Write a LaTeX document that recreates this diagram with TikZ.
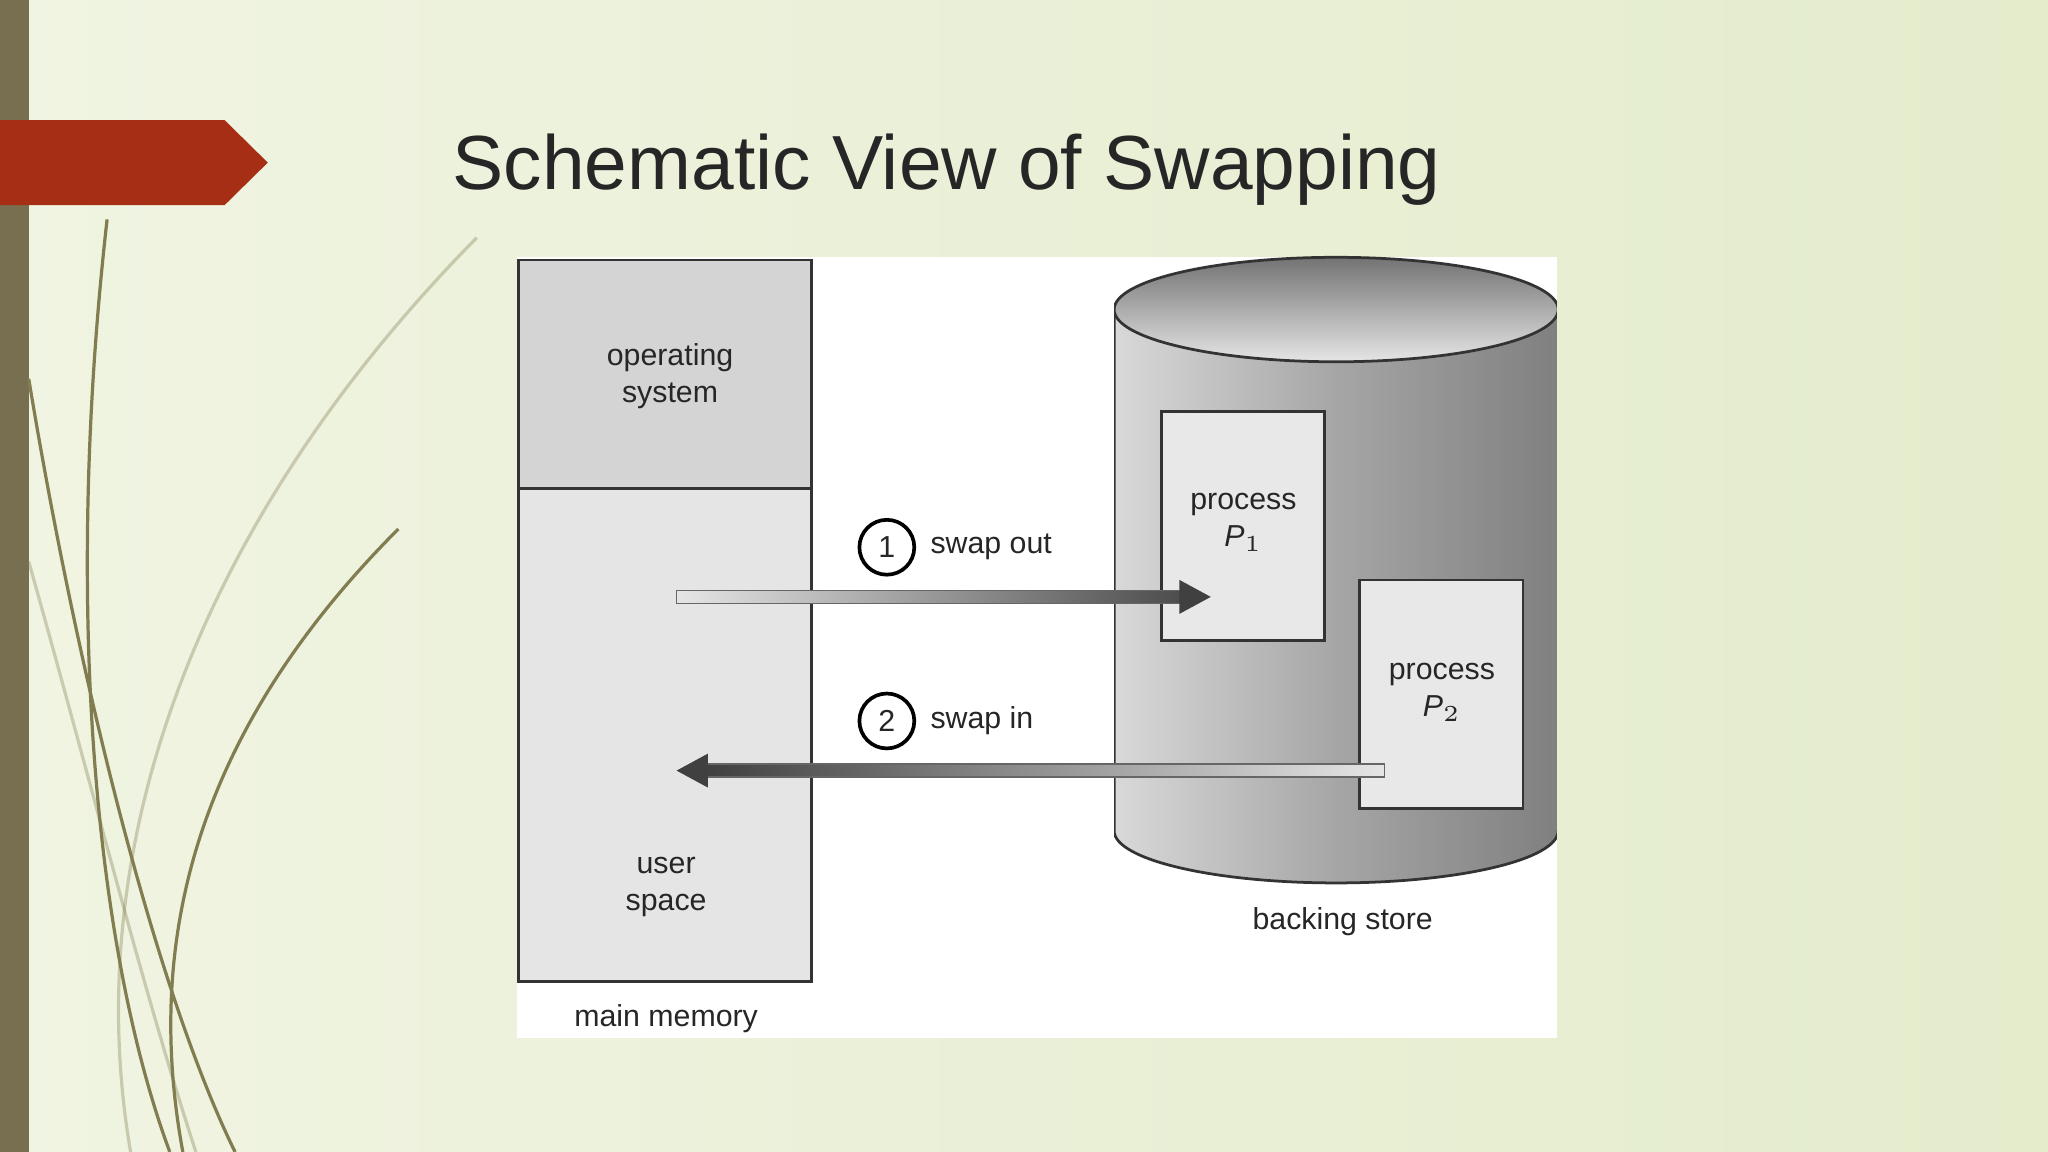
\documentclass[tikz,border=0pt]{standalone}
\usepackage{fontspec}
\setmainfont{Liberation Sans}
\definecolor{bgA}{RGB}{240,244,226}
\definecolor{bgB}{RGB}{228,236,204}
\definecolor{deco}{RGB}{130,125,80}
\begin{document}
\begin{tikzpicture}[x=0.01cm,y=-0.01cm,
  lbl/.style={font=\fontsize{6.6pt}{8pt}\selectfont,text=black!85,align=center},
  box/.style={draw=black!80,line width=0.6pt},
  deco/.style={draw=deco,line width=0.7pt}]
\useasboundingbox (0,0) rectangle (1568,882);
\shade[left color=bgA,right color=bgB] (0,0) rectangle (1568,882);
\fill[color={rgb,255:red,120;green,111;blue,80}] (0,0) rectangle (22,882);
% decorative curves
\draw[deco] (82,168) .. controls (50,450) and (70,720) .. (130,882);
\draw[deco] (22,290) .. controls (60,520) and (120,760) .. (180,882);
\draw[deco] (305,405) .. controls (150,560) and (110,720) .. (140,882);
\draw[deco,opacity=0.35] (365,182) .. controls (150,400) and (60,650) .. (100,882);
\draw[deco,opacity=0.35] (22,430) .. controls (70,600) and (110,760) .. (150,882);
% red tag
\fill[color={rgb,255:red,165;green,46;blue,20}] (0,92) -- (172,92) -- (205,124.5) -- (172,157) -- (0,157) -- cycle;
\node[anchor=base west,inner sep=0,font=\fontsize{16.7pt}{18pt}\selectfont,text=black!85] (title) at (346,145) {Schematic View of Swapping};
% figure
\fill[white] (396,197) rectangle (1192,795);
\node[box,fill=black!17,minimum width=2.24cm,minimum height=1.75cm,anchor=north west] (os) at (396,198) {};
\node[box,fill=black!10,minimum width=2.24cm,minimum height=3.77cm,anchor=north west] (us) at (396,373) {};
\node[lbl] at (513,288) {operating\\system};
\node[lbl] at (510,679) {user\\space};
\node[lbl] (mm) at (510,780) {main memory};
% cylinder
\begin{scope}
\clip (853,150) rectangle (1192,700);
\shade[left color=black!15,right color=black!50,middle color=black!35] (853,237) -- (853,636) arc[start angle=180,end angle=0,x radius=170,y radius=40] -- (1193,237) -- cycle;
\draw[black!80,line width=0.6pt] (853,237) -- (853,636) arc[start angle=180,end angle=0,x radius=170,y radius=40];
\shade[top color=black!55,bottom color=black!10] (1023,237) ellipse[x radius=170,y radius=40];
\draw[black!80,line width=0.6pt] (1023,237) ellipse[x radius=170,y radius=40];
\end{scope}
\node[lbl] (bs) at (1028,706) {backing store};
\node[box,fill=black!9,minimum width=1.25cm,minimum height=1.75cm,anchor=north west] (p1) at (888,314) {};
\node[lbl] at (952,400) {process\\\textit{P}$_1$};
\node[box,fill=black!9,minimum width=1.25cm,minimum height=1.75cm,anchor=north west] (p2) at (1040,443) {};
\node[lbl] at (1104,530) {process\\\textit{P}$_2$};
% arrows
\shade[left color=black!10,right color=black!70,draw=black!60,line width=0.3pt] (518,452) rectangle (905,462);
\fill[black!75] (903,444) -- (927,457) -- (903,470) -- cycle;
\shade[left color=black!75,right color=black!10,draw=black!60,line width=0.3pt] (540,585) rectangle (1060,595);
\fill[black!75] (542,577) -- (518,590) -- (542,603) -- cycle;
\node[circle,draw=black,line width=0.8pt,minimum size=0.42cm,inner sep=0,lbl] (c1) at (679,419) {1};
\node[lbl,anchor=west] (t1) at (700,419) {swap out};
\node[circle,draw=black,line width=0.8pt,minimum size=0.42cm,inner sep=0,lbl] (c2) at (679,552) {2};
\node[lbl,anchor=west] (t2) at (700,552) {swap in};
\end{tikzpicture}
\end{document}
